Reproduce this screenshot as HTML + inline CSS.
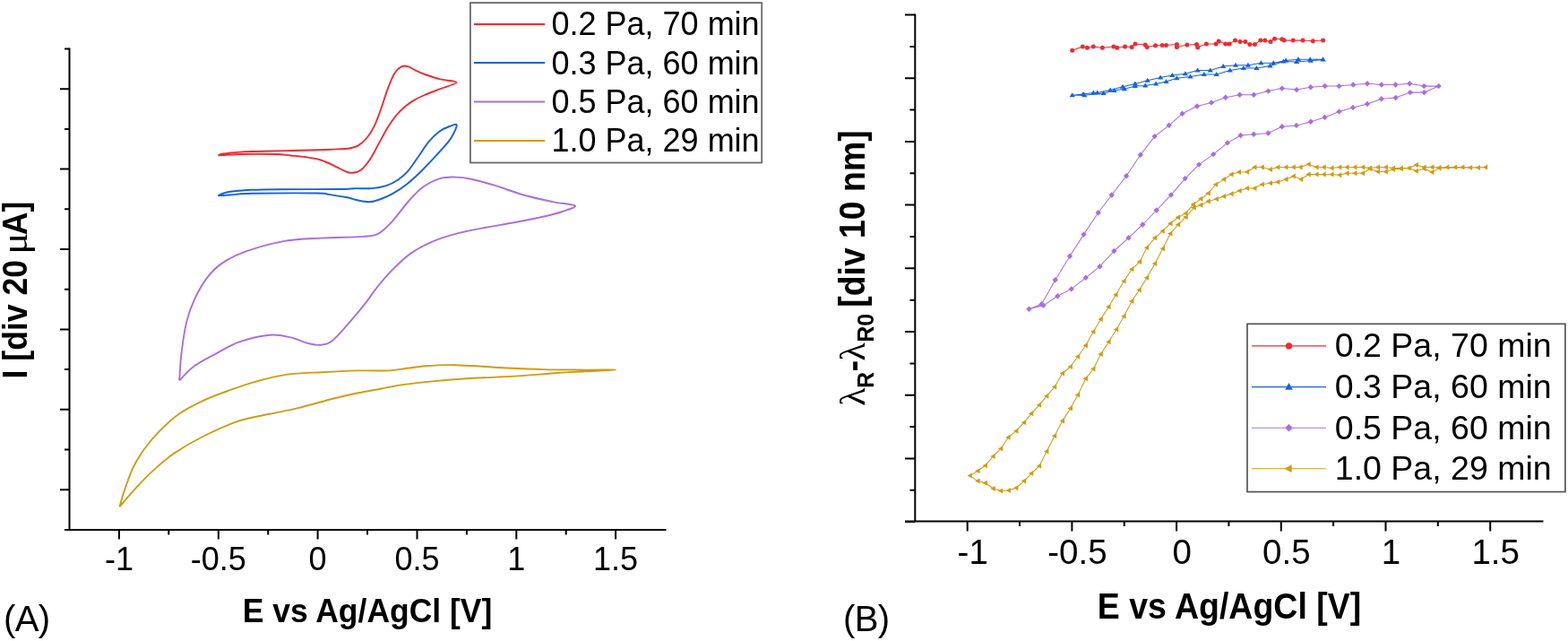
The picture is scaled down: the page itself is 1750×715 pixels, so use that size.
<!DOCTYPE html>
<html><head><meta charset="utf-8"><title>Cyclic voltammetry and resonance shift plots</title>
<style>html,body{margin:0;padding:0;background:#fff;width:1750px;height:715px;overflow:hidden}svg{display:block}</style>
</head><body>
<svg width="1750" height="715" viewBox="0 0 1750 715">
<rect width="1750" height="715" fill="#fff"/>
<g fill="none" stroke-width="1.9" stroke-linejoin="round">
<path stroke="#ee2b31" d="M243.4,173.2C244.3,172.9 245.9,172 249,171.5C252.1,171 256.6,170.5 261.9,170.1C267.2,169.7 271,169.3 280.9,169C290.8,168.7 308.9,168.4 321.2,168.1C333.5,167.8 346.3,167.6 354.7,167.3C363.1,167.1 365.7,166.9 371.5,166.6C377.3,166.3 385,166.2 389.6,165.5C394.2,164.8 396.1,164.5 399.4,162.6C402.7,160.7 406.3,157.4 409.2,154C412.1,150.6 414.4,147.4 417,142.2C419.6,137 422.2,129.9 424.8,122.7C427.4,115.5 430.1,106.1 432.7,99.2C435.3,92.3 437.9,85.7 440.5,81.5C443.1,77.3 445.9,75.3 448.3,74.1C450.8,72.9 452.6,73.3 455.2,74.1C457.8,74.8 460.6,77 464,78.6C467.4,80.2 471.1,81.9 475.7,83.5C480.3,85.1 485.8,87 491.4,88.4C497,89.8 509.4,90.1 509.4,91.9C509.4,93.7 497.3,96.9 491.4,99.2C485.5,101.5 478.7,103.9 473.8,106C468.9,108.1 465.6,109.8 462,111.9C458.4,114 455.5,115.9 452.2,118.7C448.9,121.5 445.6,124.6 442.4,128.5C439.1,132.4 435.9,137 432.7,142.2C429.4,147.4 426.2,154 422.9,159.9C419.6,165.8 416.4,172.6 413.1,177.5C409.8,182.4 406.6,186.6 403.3,189.2C400,191.8 396.4,192.5 393.5,192.8C390.6,193.1 388.6,192.3 385.7,191.2C382.8,190.1 380.5,188.4 375.9,186.3C371.3,184.2 363.9,180.3 358.1,178.5C352.3,176.7 346.9,176 341.3,175.2C335.7,174.4 329.9,174 324.5,173.5C319.1,173 316.2,172.3 308.8,172C301.4,171.7 290.7,171.6 279.8,171.8C268.9,172 249.5,173 243.4,173.2"/>
<path stroke="#1662de" d="M243.4,218.3C244.4,217.8 247.2,216.2 249.5,215.5C251.8,214.8 252.2,214.4 257.4,213.8C262.6,213.2 271.6,212.2 280.9,211.8C290.2,211.4 296.7,211.3 313.3,211.2C329.9,211.1 366.9,211.2 380.5,211C394.1,210.8 389.2,210.3 395,210.2C400.8,210 409,210.6 415,210.1C421,209.6 426.2,208.7 431.1,207.1C436,205.5 440.4,203.1 444.3,200.5C448.2,197.9 450.9,195.9 454.6,191.7C458.3,187.5 462.5,181 466.4,175.5C470.3,170 474.2,163.4 478.1,158.6C482,153.8 486,149.8 489.9,146.9C493.8,144 498.3,142.2 501.6,141C504.9,139.8 509.2,137.7 509.7,139.5C510.2,141.3 506.4,148.6 504.6,152C502.8,155.4 501.6,156.5 498.7,160.1C495.8,163.7 491.8,168 486.9,173.3C482,178.6 474.7,186.4 469.3,191.7C463.9,197 459.7,200.9 454.6,204.9C449.5,208.9 443.6,213 438.5,215.9C433.4,218.8 428.2,220.9 423.8,222.5C419.4,224.1 416.2,225.1 412,225.2C407.8,225.3 402.5,224 398.8,223.3C395.1,222.6 393.1,221.5 390,220.8C386.9,220.1 384.3,219.8 380.5,219.1C376.7,218.4 371.5,217.5 367,216.9C362.5,216.3 368,215.7 353.6,215.5C339.2,215.3 296.4,215.5 280.9,215.8C265.4,216.1 266.9,216.7 260.7,217.1C254.4,217.5 246.3,218.1 243.4,218.3"/>
<path stroke="#a96de2" d="M200.1,424.4C200.6,418.9 201.4,402.6 202.8,391.5C204.2,380.4 206.2,367.4 208.5,357.9C210.8,348.4 213.3,342.2 216.9,334.4C220.5,326.6 225.3,317.6 230.3,310.9C235.3,304.2 239.8,299.1 247.1,294.1C254.4,289.1 262.1,284.9 273.9,280.7C285.6,276.5 303.6,271.4 317.6,268.9C331.6,266.4 343.3,266.4 357.9,265.6C372.4,264.8 394.3,264.7 404.9,263.9C415.5,263.1 416.4,263.6 421.7,260.9C427,258.2 431.1,254.1 436.9,247.9C442.7,241.8 450.6,230.5 456.4,224C462.2,217.5 465.8,213.1 471.6,208.9C477.4,204.8 485,201 491.1,199.1C497.2,197.2 502.6,197.5 508.4,197.6C514.2,197.7 518.6,198.2 525.8,199.7C533,201.2 542,203.7 551.8,206.7C561.5,209.7 573.5,214.4 584.3,217.5C595.1,220.6 607.2,223.1 616.8,225.1C626.4,227.1 640,227.7 641.8,229.5C643.6,231.3 633.7,233.9 627.7,236C621.7,238.1 615,239.8 606,241.8C597,243.9 584.3,246.3 573.5,248.3C562.7,250.3 551.9,251.9 541,254C530.1,256.1 518.2,258.3 508.4,260.9C498.6,263.5 490.7,266 482.4,269.6C474.1,273.2 465.7,277.6 458.5,282.6C451.3,287.7 445.1,293.8 439,299.9C432.9,306 426.8,313.1 421.7,319.4C416.6,325.7 413.3,331.3 408.3,337.7C403.3,344.1 397.7,350.9 391.5,357.9C385.3,364.9 376.9,375.2 371.3,379.7C365.7,384.2 362.4,384.2 357.9,384.8C353.4,385.4 350.1,384.5 344.5,383.1C338.9,381.7 331.6,378 324.3,376.4C317,374.8 310.3,372.9 300.8,373.7C291.3,374.5 277.3,377.9 267.2,381.4C257.1,384.9 248.8,390.3 240.4,394.8C232,399.3 223.6,403.4 216.9,408.3C210.2,413.2 202.9,421.7 200.1,424.4"/>
<path stroke="#d29b12" d="M133.3,565.4C134.4,561.9 137.2,551.6 139.9,544.1C142.6,536.6 145.4,527.7 149.2,520.2C153,512.7 157.6,505.6 162.5,499C167.4,492.4 172.3,486.6 178.5,480.4C184.7,474.2 191.7,467.4 199.7,461.8C207.7,456.2 217.4,451.3 226.3,447.1C235.2,442.9 243.2,440 252.9,436.5C262.6,433 273.7,429 284.8,425.9C295.9,422.8 306.9,419.7 319.3,417.9C331.7,416.1 345.8,415.9 359.2,415.2C372.6,414.4 387.5,413.7 400,413.4C412.5,413.1 425.7,413.8 434.3,413.4C442.9,413 444.5,412 451.4,411.2C458.2,410.4 467.4,409 475.4,408.3C483.4,407.6 490,407.1 499.4,407.1C508.8,407.1 521.1,407.7 532,408.3C542.9,408.9 552.3,409.9 564.6,410.5C576.9,411.1 590.9,411.8 605.7,412.1C620.6,412.5 640.1,412.5 653.7,412.6C667.3,412.7 687.2,412.3 687.2,412.6C687.2,412.9 664.4,413.7 653.7,414.3C643,414.9 633.8,415.3 622.9,416C612,416.7 600,417.8 588.6,418.6C577.2,419.4 565.7,420 554.3,420.6C542.9,421.2 531.4,421.6 520,422.3C508.6,423.1 497.1,424 485.7,425.1C474.3,426.2 461.4,427.5 451.4,428.9C441.4,430.3 434.3,431.9 425.7,433.5C417.1,435.1 408.9,436.5 400,438.3C391.1,440.1 383.7,441.7 372.5,444.5C361.3,447.3 344.6,452.2 332.6,455.1C320.6,458 311.8,459.4 300.7,461.8C289.6,464.2 278.6,465.5 266.2,469.7C253.8,473.9 238.3,481 226.3,487C214.3,493 203.3,499.6 194.4,505.6C185.5,511.6 180.2,516.5 173.1,522.9C166,529.3 158.5,537 151.9,544.1C145.3,551.2 136.4,561.9 133.3,565.4"/>
</g>
<g fill="none" stroke-width="1.05" stroke-linejoin="round">
<polyline stroke="#ee2b31" points="1196.7,56.2 1208.3,52 1213.4,53.3 1220.3,52 1230.4,53.3 1242.9,52 1246.7,53.3 1255.5,52 1263.1,52.4 1266.9,48.9 1278.2,50.1 1280.1,52.4 1289.5,50.8 1297.1,50.5 1301.5,50.5 1313.4,49.5 1313.4,52.4 1324.8,49.9 1335.5,49.5 1336.7,52.7 1346.4,48.9 1357.1,49.1 1360.2,46.1 1367.8,49.1 1372.2,48.9 1378.5,45.1 1384.1,46.4 1389.8,46.4 1394.8,49.5 1400.5,49.5 1406.8,44.9 1411.8,44.9 1418.1,46.4 1422.5,43.2 1430.7,43.8 1433.2,45.1 1443.3,45.1 1454,45.1 1465.3,45.7 1476.6,45.1"/>
<polyline stroke="#1662de" points="1196.7,106.2 1209,104.9 1220.3,103.6 1224.7,103.6 1239.2,100.5 1253,96.7 1266.9,93.6 1280.7,89.8 1295.2,86.6 1308.4,84.1 1322.9,82.2 1336.7,78.5 1350.8,78.5 1365.2,74.1 1379.1,72.8 1392.9,72.8 1407.4,70.3 1421.3,70.3 1435.1,67.5 1449,66.3 1462.2,66.3 1476.6,66.3 1476.6,66.5 1462.8,67.8 1447.1,69 1432.6,68.4 1417.5,73.4 1402.4,76 1387.9,76 1372.8,78.5 1357.7,82.9 1343.8,82.9 1328.5,85.4 1313.4,87.3 1301.5,91.1 1290.1,93.6 1278.2,95.5 1266.9,96.1 1254.9,99.2 1243.6,101.1 1231.6,104 1210.2,106.2 1196.7,106.2"/>
<polyline stroke="#a96de2" points="1148.5,344.8 1162.5,339.2 1177.8,312.3 1194,285.7 1209.5,261.6 1225.7,237.2 1240.7,217.5 1257.1,196.2 1272.8,172.7 1288.7,152.1 1304.7,139.8 1319.5,126.8 1336,118.5 1352,114.4 1367.8,108.7 1383.6,105.7 1399.3,105.7 1415.5,101.6 1430.8,98.6 1447.1,100.1 1462.8,97.3 1478.7,96 1494.5,96.1 1510.3,94.5 1526,93.3 1541.8,94.5 1557.5,94.5 1573.2,93.3 1589.3,96.1 1605.7,96.1 1605.7,96.1 1589.6,103.1 1573.9,103.1 1557.7,109 1541.8,110.3 1526,116 1510,120 1494.5,124.4 1478.5,130.9 1462.9,135.7 1446.9,139.9 1430.8,141.3 1415.4,148.5 1399.3,149.7 1384.6,151 1369.9,159.4 1354.2,172.1 1338.1,183.6 1322.7,199.1 1307,217.4 1290.8,234.5 1275.3,250.5 1259.5,265.3 1243.3,280 1227.5,297.2 1211.8,309.8 1195.7,322.4 1180.3,330.3 1164.6,340.6 1148.5,344.8"/>
<polyline stroke="#d29b12" points="1082.6,530.6 1091.4,525.3 1099.7,519.3 1108.5,508.9 1117.1,500.4 1125.4,487.8 1134.2,480.7 1143,471.2 1151.1,461.3 1159.9,451.8 1168.2,441.7 1177,431.6 1185.8,416.5 1194.7,409 1203,397.8 1211.8,385.3 1220.2,370 1228.6,355.9 1237.4,342.3 1245.4,328.7 1254.4,313.6 1263.2,300.3 1272,292 1280,276.2 1289,265.3 1297.6,257.8 1306.3,249.2 1314.8,242.5 1323.4,237.9 1331.8,228.1 1340.2,221.8 1348.6,215.5 1357,205.7 1366,200.1 1374.4,194.5 1382.8,192.1 1391.9,191.7 1400.3,186.5 1408.7,186.5 1417.8,188.9 1426.2,186.5 1435.3,186.5 1443.7,186.5 1451.4,186.5 1460.5,183.3 1469.4,186.4 1477.6,186.4 1486.4,187.6 1495.2,186.4 1503.4,186.4 1512.2,186.4 1521,186.4 1529.1,187.6 1537.9,186.4 1546.7,186.4 1554.9,187.6 1563.7,187.6 1572.5,187.6 1580.7,183.9 1589.5,186.4 1598.3,186.4 1606.4,187 1615.2,186.4 1624,186.4 1632.2,186.4 1641,187 1649.8,187 1658,186.4 1606.4,187.6 1598.3,192 1589.5,188.3 1580.7,190.8 1572.5,187.6 1563.7,188.3 1554.9,188.9 1546.7,191.4 1537.9,191.4 1529.1,188.3 1521,193.3 1512.2,193.3 1503.4,193.3 1495.2,195.2 1486.4,194.5 1477.6,194.5 1469.4,194.5 1460.5,194.5 1452.1,200.1 1443.7,196.6 1435.3,200.1 1426.2,202.9 1417.8,204.3 1408.7,205.7 1400.3,209.9 1391.9,209.9 1383.5,212.7 1374.4,216.2 1366,219 1357.7,222 1348.6,224.6 1340.2,228.8 1332.5,231.6 1323.4,242.1 1315,250.5 1306.2,260.5 1297.8,277.3 1289,294 1280,309.8 1271.6,323.4 1263.2,336 1254.4,352.8 1246,367.5 1237.4,381.3 1228.6,395.1 1220.3,411.5 1211.8,422.3 1203,440.4 1194.7,455.5 1185.8,469.4 1177,486.3 1168.2,503.4 1159.9,519.8 1151.1,528.1 1143,536.6 1134.2,544.2 1125.9,547 1117.1,547.5 1108.5,545 1099.7,538.7 1091.4,536.6 1082.6,530.6"/>
</g>
<g fill="#ee2b31"><circle cx="1196.7" cy="56.2" r="2.5"/><circle cx="1208.3" cy="52" r="2.5"/><circle cx="1213.4" cy="53.3" r="2.5"/><circle cx="1220.3" cy="52" r="2.5"/><circle cx="1230.4" cy="53.3" r="2.5"/><circle cx="1242.9" cy="52" r="2.5"/><circle cx="1246.7" cy="53.3" r="2.5"/><circle cx="1255.5" cy="52" r="2.5"/><circle cx="1263.1" cy="52.4" r="2.5"/><circle cx="1266.9" cy="48.9" r="2.5"/><circle cx="1278.2" cy="50.1" r="2.5"/><circle cx="1280.1" cy="52.4" r="2.5"/><circle cx="1289.5" cy="50.8" r="2.5"/><circle cx="1297.1" cy="50.5" r="2.5"/><circle cx="1301.5" cy="50.5" r="2.5"/><circle cx="1313.4" cy="49.5" r="2.5"/><circle cx="1313.4" cy="52.4" r="2.5"/><circle cx="1324.8" cy="49.9" r="2.5"/><circle cx="1335.5" cy="49.5" r="2.5"/><circle cx="1336.7" cy="52.7" r="2.5"/><circle cx="1346.4" cy="48.9" r="2.5"/><circle cx="1357.1" cy="49.1" r="2.5"/><circle cx="1360.2" cy="46.1" r="2.5"/><circle cx="1367.8" cy="49.1" r="2.5"/><circle cx="1372.2" cy="48.9" r="2.5"/><circle cx="1378.5" cy="45.1" r="2.5"/><circle cx="1384.1" cy="46.4" r="2.5"/><circle cx="1389.8" cy="46.4" r="2.5"/><circle cx="1394.8" cy="49.5" r="2.5"/><circle cx="1400.5" cy="49.5" r="2.5"/><circle cx="1406.8" cy="44.9" r="2.5"/><circle cx="1411.8" cy="44.9" r="2.5"/><circle cx="1418.1" cy="46.4" r="2.5"/><circle cx="1422.5" cy="43.2" r="2.5"/><circle cx="1430.7" cy="43.8" r="2.5"/><circle cx="1433.2" cy="45.1" r="2.5"/><circle cx="1443.3" cy="45.1" r="2.5"/><circle cx="1454" cy="45.1" r="2.5"/><circle cx="1465.3" cy="45.7" r="2.5"/><circle cx="1476.6" cy="45.1" r="2.5"/></g>
<g fill="#1662de"><path d="M1196.7,103.2L1193.6,108.2L1199.8,108.2ZM1209,101.9L1205.9,106.9L1212.1,106.9ZM1220.3,100.6L1217.2,105.6L1223.4,105.6ZM1224.7,100.6L1221.6,105.6L1227.8,105.6ZM1239.2,97.5L1236.1,102.5L1242.3,102.5ZM1253,93.7L1249.9,98.7L1256.1,98.7ZM1266.9,90.6L1263.8,95.6L1270,95.6ZM1280.7,86.8L1277.6,91.8L1283.8,91.8ZM1295.2,83.6L1292.1,88.6L1298.3,88.6ZM1308.4,81.1L1305.3,86.1L1311.5,86.1ZM1322.9,79.2L1319.8,84.2L1326,84.2ZM1336.7,75.5L1333.6,80.5L1339.8,80.5ZM1350.8,75.5L1347.7,80.5L1353.9,80.5ZM1365.2,71.1L1362.1,76.1L1368.3,76.1ZM1379.1,69.8L1376,74.8L1382.2,74.8ZM1392.9,69.8L1389.8,74.8L1396,74.8ZM1407.4,67.3L1404.3,72.3L1410.5,72.3ZM1421.3,67.3L1418.2,72.3L1424.4,72.3ZM1435.1,64.5L1432,69.5L1438.2,69.5ZM1449,63.3L1445.9,68.3L1452.1,68.3ZM1462.2,63.3L1459.1,68.3L1465.3,68.3ZM1476.6,63.3L1473.5,68.3L1479.7,68.3ZM1476.6,63.5L1473.5,68.5L1479.7,68.5ZM1462.8,64.8L1459.7,69.8L1465.9,69.8ZM1447.1,66L1444,71L1450.2,71ZM1432.6,65.4L1429.5,70.4L1435.7,70.4ZM1417.5,70.4L1414.4,75.4L1420.6,75.4ZM1402.4,73L1399.3,78L1405.5,78ZM1387.9,73L1384.8,78L1391,78ZM1372.8,75.5L1369.7,80.5L1375.9,80.5ZM1357.7,79.9L1354.6,84.9L1360.8,84.9ZM1343.8,79.9L1340.7,84.9L1346.9,84.9ZM1328.5,82.4L1325.4,87.4L1331.6,87.4ZM1313.4,84.3L1310.3,89.3L1316.5,89.3ZM1301.5,88.1L1298.4,93.1L1304.6,93.1ZM1290.1,90.6L1287,95.6L1293.2,95.6ZM1278.2,92.5L1275.1,97.5L1281.3,97.5ZM1266.9,93.1L1263.8,98.1L1270,98.1ZM1254.9,96.2L1251.8,101.2L1258,101.2ZM1243.6,98.1L1240.5,103.1L1246.7,103.1ZM1231.6,101L1228.5,106L1234.7,106ZM1210.2,103.2L1207.1,108.2L1213.3,108.2ZM1196.7,103.2L1193.6,108.2L1199.8,108.2Z"/></g>
<g fill="#a96de2"><path d="M1148.5,341.6L1151.7,344.8L1148.5,348L1145.3,344.8ZM1162.5,336L1165.7,339.2L1162.5,342.4L1159.3,339.2ZM1177.8,309.1L1181,312.3L1177.8,315.5L1174.6,312.3ZM1194,282.5L1197.2,285.7L1194,288.9L1190.8,285.7ZM1209.5,258.4L1212.7,261.6L1209.5,264.8L1206.3,261.6ZM1225.7,234L1228.9,237.2L1225.7,240.4L1222.5,237.2ZM1240.7,214.3L1243.9,217.5L1240.7,220.7L1237.5,217.5ZM1257.1,193L1260.3,196.2L1257.1,199.4L1253.9,196.2ZM1272.8,169.5L1276,172.7L1272.8,175.9L1269.6,172.7ZM1288.7,148.9L1291.9,152.1L1288.7,155.3L1285.5,152.1ZM1304.7,136.6L1307.9,139.8L1304.7,143L1301.5,139.8ZM1319.5,123.6L1322.7,126.8L1319.5,130L1316.3,126.8ZM1336,115.3L1339.2,118.5L1336,121.7L1332.8,118.5ZM1352,111.2L1355.2,114.4L1352,117.6L1348.8,114.4ZM1367.8,105.5L1371,108.7L1367.8,111.9L1364.6,108.7ZM1383.6,102.5L1386.8,105.7L1383.6,108.9L1380.4,105.7ZM1399.3,102.5L1402.5,105.7L1399.3,108.9L1396.1,105.7ZM1415.5,98.4L1418.7,101.6L1415.5,104.8L1412.3,101.6ZM1430.8,95.4L1434,98.6L1430.8,101.8L1427.6,98.6ZM1447.1,96.9L1450.3,100.1L1447.1,103.3L1443.9,100.1ZM1462.8,94.1L1466,97.3L1462.8,100.5L1459.6,97.3ZM1478.7,92.8L1481.9,96L1478.7,99.2L1475.5,96ZM1494.5,92.9L1497.7,96.1L1494.5,99.3L1491.3,96.1ZM1510.3,91.3L1513.5,94.5L1510.3,97.7L1507.1,94.5ZM1526,90.1L1529.2,93.3L1526,96.5L1522.8,93.3ZM1541.8,91.3L1545,94.5L1541.8,97.7L1538.6,94.5ZM1557.5,91.3L1560.7,94.5L1557.5,97.7L1554.3,94.5ZM1573.2,90.1L1576.4,93.3L1573.2,96.5L1570,93.3ZM1589.3,92.9L1592.5,96.1L1589.3,99.3L1586.1,96.1ZM1605.7,92.9L1608.9,96.1L1605.7,99.3L1602.5,96.1ZM1605.7,92.9L1608.9,96.1L1605.7,99.3L1602.5,96.1ZM1589.6,99.9L1592.8,103.1L1589.6,106.3L1586.4,103.1ZM1573.9,99.9L1577.1,103.1L1573.9,106.3L1570.7,103.1ZM1557.7,105.8L1560.9,109L1557.7,112.2L1554.5,109ZM1541.8,107.1L1545,110.3L1541.8,113.5L1538.6,110.3ZM1526,112.8L1529.2,116L1526,119.2L1522.8,116ZM1510,116.8L1513.2,120L1510,123.2L1506.8,120ZM1494.5,121.2L1497.7,124.4L1494.5,127.6L1491.3,124.4ZM1478.5,127.7L1481.7,130.9L1478.5,134.1L1475.3,130.9ZM1462.9,132.5L1466.1,135.7L1462.9,138.9L1459.7,135.7ZM1446.9,136.7L1450.1,139.9L1446.9,143.1L1443.7,139.9ZM1430.8,138.1L1434,141.3L1430.8,144.5L1427.6,141.3ZM1415.4,145.3L1418.6,148.5L1415.4,151.7L1412.2,148.5ZM1399.3,146.5L1402.5,149.7L1399.3,152.9L1396.1,149.7ZM1384.6,147.8L1387.8,151L1384.6,154.2L1381.4,151ZM1369.9,156.2L1373.1,159.4L1369.9,162.6L1366.7,159.4ZM1354.2,168.9L1357.4,172.1L1354.2,175.3L1351,172.1ZM1338.1,180.4L1341.3,183.6L1338.1,186.8L1334.9,183.6ZM1322.7,195.9L1325.9,199.1L1322.7,202.3L1319.5,199.1ZM1307,214.2L1310.2,217.4L1307,220.6L1303.8,217.4ZM1290.8,231.3L1294,234.5L1290.8,237.7L1287.6,234.5ZM1275.3,247.3L1278.5,250.5L1275.3,253.7L1272.1,250.5ZM1259.5,262.1L1262.7,265.3L1259.5,268.5L1256.3,265.3ZM1243.3,276.8L1246.5,280L1243.3,283.2L1240.1,280ZM1227.5,294L1230.7,297.2L1227.5,300.4L1224.3,297.2ZM1211.8,306.6L1215,309.8L1211.8,313L1208.6,309.8ZM1195.7,319.2L1198.9,322.4L1195.7,325.6L1192.5,322.4ZM1180.3,327.1L1183.5,330.3L1180.3,333.5L1177.1,330.3ZM1164.6,337.4L1167.8,340.6L1164.6,343.8L1161.4,340.6ZM1148.5,341.6L1151.7,344.8L1148.5,348L1145.3,344.8Z"/></g>
<g fill="#d29b12"><path d="M1079.4,530.6L1084.8,527.6L1084.8,533.6ZM1088.2,525.3L1093.6,522.3L1093.6,528.3ZM1096.5,519.3L1101.9,516.3L1101.9,522.3ZM1105.3,508.9L1110.7,505.9L1110.7,511.9ZM1113.9,500.4L1119.3,497.4L1119.3,503.4ZM1122.2,487.8L1127.6,484.8L1127.6,490.8ZM1131,480.7L1136.4,477.7L1136.4,483.7ZM1139.8,471.2L1145.2,468.2L1145.2,474.2ZM1147.9,461.3L1153.3,458.3L1153.3,464.3ZM1156.7,451.8L1162.1,448.8L1162.1,454.8ZM1165,441.7L1170.4,438.7L1170.4,444.7ZM1173.8,431.6L1179.2,428.6L1179.2,434.6ZM1182.6,416.5L1188,413.5L1188,419.5ZM1191.5,409L1196.9,406L1196.9,412ZM1199.8,397.8L1205.2,394.8L1205.2,400.8ZM1208.6,385.3L1214,382.3L1214,388.3ZM1217,370L1222.4,367L1222.4,373ZM1225.4,355.9L1230.8,352.9L1230.8,358.9ZM1234.2,342.3L1239.6,339.3L1239.6,345.3ZM1242.2,328.7L1247.6,325.7L1247.6,331.7ZM1251.2,313.6L1256.6,310.6L1256.6,316.6ZM1260,300.3L1265.4,297.3L1265.4,303.3ZM1268.8,292L1274.2,289L1274.2,295ZM1276.8,276.2L1282.2,273.2L1282.2,279.2ZM1285.8,265.3L1291.2,262.3L1291.2,268.3ZM1294.4,257.8L1299.8,254.8L1299.8,260.8ZM1303.1,249.2L1308.5,246.2L1308.5,252.2ZM1311.6,242.5L1317,239.5L1317,245.5ZM1320.2,237.9L1325.6,234.9L1325.6,240.9ZM1328.6,228.1L1334,225.1L1334,231.1ZM1337,221.8L1342.4,218.8L1342.4,224.8ZM1345.4,215.5L1350.8,212.5L1350.8,218.5ZM1353.8,205.7L1359.2,202.7L1359.2,208.7ZM1362.8,200.1L1368.2,197.1L1368.2,203.1ZM1371.2,194.5L1376.6,191.5L1376.6,197.5ZM1379.6,192.1L1385,189.1L1385,195.1ZM1388.7,191.7L1394.1,188.7L1394.1,194.7ZM1397.1,186.5L1402.5,183.5L1402.5,189.5ZM1405.5,186.5L1410.9,183.5L1410.9,189.5ZM1414.6,188.9L1420,185.9L1420,191.9ZM1423,186.5L1428.4,183.5L1428.4,189.5ZM1432.1,186.5L1437.5,183.5L1437.5,189.5ZM1440.5,186.5L1445.9,183.5L1445.9,189.5ZM1448.2,186.5L1453.6,183.5L1453.6,189.5ZM1457.3,183.3L1462.7,180.3L1462.7,186.3ZM1466.2,186.4L1471.6,183.4L1471.6,189.4ZM1474.4,186.4L1479.8,183.4L1479.8,189.4ZM1483.2,187.6L1488.6,184.6L1488.6,190.6ZM1492,186.4L1497.4,183.4L1497.4,189.4ZM1500.2,186.4L1505.6,183.4L1505.6,189.4ZM1509,186.4L1514.4,183.4L1514.4,189.4ZM1517.8,186.4L1523.2,183.4L1523.2,189.4ZM1525.9,187.6L1531.3,184.6L1531.3,190.6ZM1534.7,186.4L1540.1,183.4L1540.1,189.4ZM1543.5,186.4L1548.9,183.4L1548.9,189.4ZM1551.7,187.6L1557.1,184.6L1557.1,190.6ZM1560.5,187.6L1565.9,184.6L1565.9,190.6ZM1569.3,187.6L1574.7,184.6L1574.7,190.6ZM1577.5,183.9L1582.9,180.9L1582.9,186.9ZM1586.3,186.4L1591.7,183.4L1591.7,189.4ZM1595.1,186.4L1600.5,183.4L1600.5,189.4ZM1603.2,187L1608.6,184L1608.6,190ZM1612,186.4L1617.4,183.4L1617.4,189.4ZM1620.8,186.4L1626.2,183.4L1626.2,189.4ZM1629,186.4L1634.4,183.4L1634.4,189.4ZM1637.8,187L1643.2,184L1643.2,190ZM1646.6,187L1652,184L1652,190ZM1654.8,186.4L1660.2,183.4L1660.2,189.4ZM1603.2,187.6L1608.6,184.6L1608.6,190.6ZM1595.1,192L1600.5,189L1600.5,195ZM1586.3,188.3L1591.7,185.3L1591.7,191.3ZM1577.5,190.8L1582.9,187.8L1582.9,193.8ZM1569.3,187.6L1574.7,184.6L1574.7,190.6ZM1560.5,188.3L1565.9,185.3L1565.9,191.3ZM1551.7,188.9L1557.1,185.9L1557.1,191.9ZM1543.5,191.4L1548.9,188.4L1548.9,194.4ZM1534.7,191.4L1540.1,188.4L1540.1,194.4ZM1525.9,188.3L1531.3,185.3L1531.3,191.3ZM1517.8,193.3L1523.2,190.3L1523.2,196.3ZM1509,193.3L1514.4,190.3L1514.4,196.3ZM1500.2,193.3L1505.6,190.3L1505.6,196.3ZM1492,195.2L1497.4,192.2L1497.4,198.2ZM1483.2,194.5L1488.6,191.5L1488.6,197.5ZM1474.4,194.5L1479.8,191.5L1479.8,197.5ZM1466.2,194.5L1471.6,191.5L1471.6,197.5ZM1457.3,194.5L1462.7,191.5L1462.7,197.5ZM1448.9,200.1L1454.3,197.1L1454.3,203.1ZM1440.5,196.6L1445.9,193.6L1445.9,199.6ZM1432.1,200.1L1437.5,197.1L1437.5,203.1ZM1423,202.9L1428.4,199.9L1428.4,205.9ZM1414.6,204.3L1420,201.3L1420,207.3ZM1405.5,205.7L1410.9,202.7L1410.9,208.7ZM1397.1,209.9L1402.5,206.9L1402.5,212.9ZM1388.7,209.9L1394.1,206.9L1394.1,212.9ZM1380.3,212.7L1385.7,209.7L1385.7,215.7ZM1371.2,216.2L1376.6,213.2L1376.6,219.2ZM1362.8,219L1368.2,216L1368.2,222ZM1354.5,222L1359.9,219L1359.9,225ZM1345.4,224.6L1350.8,221.6L1350.8,227.6ZM1337,228.8L1342.4,225.8L1342.4,231.8ZM1329.3,231.6L1334.7,228.6L1334.7,234.6ZM1320.2,242.1L1325.6,239.1L1325.6,245.1ZM1311.8,250.5L1317.2,247.5L1317.2,253.5ZM1303,260.5L1308.4,257.5L1308.4,263.5ZM1294.6,277.3L1300,274.3L1300,280.3ZM1285.8,294L1291.2,291L1291.2,297ZM1276.8,309.8L1282.2,306.8L1282.2,312.8ZM1268.4,323.4L1273.8,320.4L1273.8,326.4ZM1260,336L1265.4,333L1265.4,339ZM1251.2,352.8L1256.6,349.8L1256.6,355.8ZM1242.8,367.5L1248.2,364.5L1248.2,370.5ZM1234.2,381.3L1239.6,378.3L1239.6,384.3ZM1225.4,395.1L1230.8,392.1L1230.8,398.1ZM1217.1,411.5L1222.5,408.5L1222.5,414.5ZM1208.6,422.3L1214,419.3L1214,425.3ZM1199.8,440.4L1205.2,437.4L1205.2,443.4ZM1191.5,455.5L1196.9,452.5L1196.9,458.5ZM1182.6,469.4L1188,466.4L1188,472.4ZM1173.8,486.3L1179.2,483.3L1179.2,489.3ZM1165,503.4L1170.4,500.4L1170.4,506.4ZM1156.7,519.8L1162.1,516.8L1162.1,522.8ZM1147.9,528.1L1153.3,525.1L1153.3,531.1ZM1139.8,536.6L1145.2,533.6L1145.2,539.6ZM1131,544.2L1136.4,541.2L1136.4,547.2ZM1122.7,547L1128.1,544L1128.1,550ZM1113.9,547.5L1119.3,544.5L1119.3,550.5ZM1105.3,545L1110.7,542L1110.7,548ZM1096.5,538.7L1101.9,535.7L1101.9,541.7ZM1088.2,536.6L1093.6,533.6L1093.6,539.6ZM1079.4,530.6L1084.8,527.6L1084.8,533.6Z"/></g>
<g stroke="#000" stroke-width="2" fill="none"><path d="M77.5,53.5V592" /><path d="M72,591H743.5" /><path d="M67,99.2H77.5M67,188.6H77.5M67,278H77.5M67,367.4H77.5M67,456.8H77.5M67,546.2H77.5M72,54.5H77.5M72,143.9H77.5M72,233.3H77.5M72,322.7H77.5M72,412.1H77.5M72,501.5H77.5M132.9,591V601.5M188.3,591V596.5M243.8,591V601.5M299.2,591V596.5M354.6,591V601.5M410,591V596.5M465.5,591V601.5M520.9,591V596.5M576.3,591V601.5M631.7,591V596.5M687.1,591V601.5"/><path d="M1021.3,15.5V582" /><path d="M1010,581.4H1722.5" /><path d="M1010,16.5H1021.3M1010,87.2H1021.3M1010,157.9H1021.3M1010,228.6H1021.3M1010,299.3H1021.3M1010,370H1021.3M1010,440.7H1021.3M1010,511.4H1021.3M1010,582.1H1021.3M1015.5,51.9H1021.3M1015.5,122.6H1021.3M1015.5,193.2H1021.3M1015.5,264H1021.3M1015.5,334.7H1021.3M1015.5,405.4H1021.3M1015.5,476.1H1021.3M1015.5,546.8H1021.3M1079.7,581.4V592.5M1138,581.4V587M1196.4,581.4V592.5M1254.8,581.4V587M1313.1,581.4V592.5M1371.4,581.4V587M1429.8,581.4V592.5M1488.1,581.4V587M1546.5,581.4V592.5M1604.8,581.4V587M1663.2,581.4V592.5"/></g>
<g font-family="Liberation Sans, Arial, sans-serif" fill="#000">
<text x="132.9" y="636.2" font-size="36" text-anchor="middle">-1</text><text x="243.8" y="636.2" font-size="36" text-anchor="middle">-0.5</text><text x="354.6" y="636.2" font-size="36" text-anchor="middle">0</text><text x="465.5" y="636.2" font-size="36" text-anchor="middle">0.5</text><text x="576.3" y="636.2" font-size="36" text-anchor="middle">1</text><text x="687.1" y="636.2" font-size="36" text-anchor="middle">1.5</text>
<text x="1085.7" y="628.9" font-size="38.5" text-anchor="middle">-1</text><text x="1202.4" y="628.9" font-size="38.5" text-anchor="middle">-0.5</text><text x="1319.1" y="628.9" font-size="38.5" text-anchor="middle">0</text><text x="1435.8" y="628.9" font-size="38.5" text-anchor="middle">0.5</text><text x="1552.5" y="628.9" font-size="38.5" text-anchor="middle">1</text><text x="1669.2" y="628.9" font-size="38.5" text-anchor="middle">1.5</text>
<text transform="translate(410,693.9) scale(1,1.065)" font-size="35.5" font-weight="bold" text-anchor="middle">E vs Ag/AgCl [V]</text>
<text transform="translate(1372,689.9) scale(1,1.065)" font-size="37.5" font-weight="bold" text-anchor="middle">E vs Ag/AgCl [V]</text>
<g transform="translate(29.6,0) rotate(-90) scale(1,1.065)" font-weight="bold"><text x="-422.5" y="0" font-size="35.6">I [div 20</text><text transform="translate(-283.6,0) scale(1.2,1)" x="0" y="0" font-size="37" font-weight="normal" font-family="Liberation Serif, serif">μ</text><text x="-262.2" y="0" font-size="35.6">A]</text></g>
<g transform="translate(964.5,0) rotate(-90) scale(1,1.065)" font-weight="bold"><text transform="translate(-452.8,0) scale(1.1,1)" font-size="38" font-weight="normal" font-family="Liberation Serif, serif">λ</text><text x="-433" y="9.4" font-size="25">R</text><text x="-414.6" y="0" font-size="38">-</text><text transform="translate(-402.6,0) scale(1.1,1)" font-size="38" font-weight="normal" font-family="Liberation Serif, serif">λ</text><text x="-381.8" y="9.4" font-size="25">R0</text><text x="-342.8" y="0" font-size="37.4">[div 10 nm]</text></g>
</g>
<g font-family="Liberation Sans, Arial, sans-serif" fill="#000" font-size="40" letter-spacing="-0.6">
<text x="4" y="704.3">(A)</text>
<text x="941" y="704.3">(B)</text>
</g>
<rect x="524.9" y="3.1" width="325.3" height="178.4" fill="#fff" stroke="#6a6a6a" stroke-width="1.8"/><path d="M529,26.9H608.2" stroke="#ee2b31" stroke-width="2.0"/><text x="615.5" y="39.2" font-size="36" font-family="Liberation Sans, Arial, sans-serif">0.2 Pa, 70 min</text><path d="M529,70.1H608.2" stroke="#1662de" stroke-width="2.0"/><text x="615.5" y="82.5" font-size="36" font-family="Liberation Sans, Arial, sans-serif">0.3 Pa, 60 min</text><path d="M529,113.6H608.2" stroke="#a96de2" stroke-width="2.0"/><text x="615.5" y="126.1" font-size="36" font-family="Liberation Sans, Arial, sans-serif">0.5 Pa, 60 min</text><path d="M529,156.9H608.2" stroke="#d29b12" stroke-width="2.0"/><text x="615.5" y="169.4" font-size="36" font-family="Liberation Sans, Arial, sans-serif">1.0 Pa, 29 min</text>
<rect x="1392" y="361.3" width="354.9" height="187.3" fill="#fff" stroke="#555" stroke-width="1.7"/><path d="M1397,385.9H1480" stroke="#ee2b31" stroke-width="1.1"/><text x="1489.8" y="398.4" font-size="37.5" font-family="Liberation Sans, Arial, sans-serif">0.2 Pa, 70 min</text><path d="M1397,431.6H1480" stroke="#1662de" stroke-width="1.1"/><text x="1489.8" y="444.2" font-size="37.5" font-family="Liberation Sans, Arial, sans-serif">0.3 Pa, 60 min</text><path d="M1397,477.2H1480" stroke="#a96de2" stroke-width="1.1"/><text x="1489.8" y="489.8" font-size="37.5" font-family="Liberation Sans, Arial, sans-serif">0.5 Pa, 60 min</text><path d="M1397,522.7H1480" stroke="#d29b12" stroke-width="1.1"/><text x="1489.8" y="535.3" font-size="37.5" font-family="Liberation Sans, Arial, sans-serif">1.0 Pa, 29 min</text><circle cx="1438.5" cy="385.9" r="3.6" fill="#ee2b31"/><g fill="#1662de"><path d="M1438.5,427L1434.2,434.7L1442.8,434.7Z"/></g><g fill="#a96de2"><path d="M1438.5,472.9L1442.8,477.2L1438.5,481.5L1434.2,477.2Z"/></g><g fill="#d29b12"><path d="M1433.6,522.7L1441.7,518.2L1441.7,527.2Z"/></g>
</svg>
</body></html>
